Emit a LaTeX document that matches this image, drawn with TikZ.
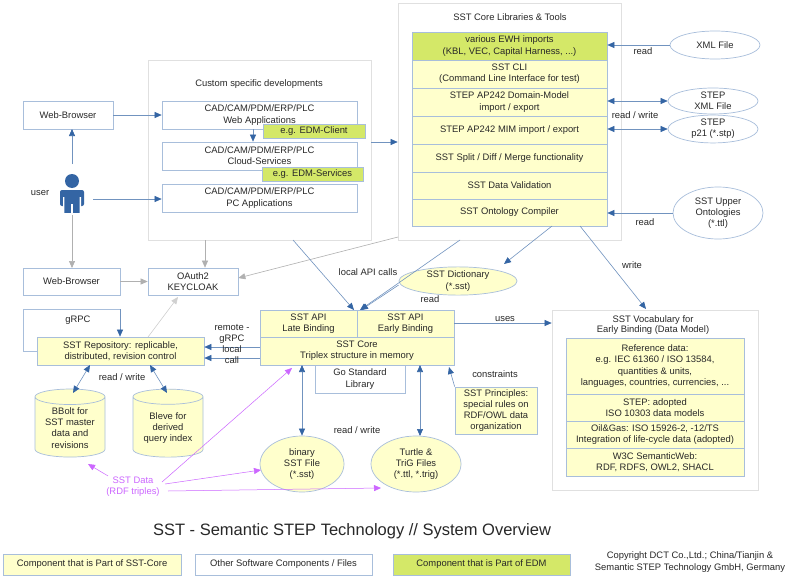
\documentclass[tikz,border=0pt]{standalone}
\usepackage{fontspec}
\setmainfont{Liberation Sans}
\usetikzlibrary{shapes.geometric,arrows.meta}
\definecolor{bd}{RGB}{168,190,219}
\definecolor{yl}{RGB}{255,255,204}
\definecolor{gr}{RGB}{212,232,104}
\definecolor{ab}{RGB}{52,101,164}
\definecolor{ag}{RGB}{176,176,176}
\definecolor{pu}{RGB}{204,102,255}
\definecolor{tx}{RGB}{40,40,40}
\newcommand\bx[7]{\node[#6,minimum width={(#4-#2)*1pt},minimum height={(#5-#3)*1pt}] (#1) at ({(#2+#4)/2},{(#3+#5)/2}) {#7};}
\begin{document}
\begin{tikzpicture}[x=1pt,y=-1pt,font=\fontsize{9.4}{11.2}\selectfont,text=tx,
 box/.style={draw=bd,fill=white,align=center,inner sep=0pt,line width=0.7pt},
 ybox/.style={box,fill=yl},
 gbox/.style={box,fill=gr},
 ell/.style={ellipse,draw=bd,align=center,inner sep=0pt,line width=0.7pt},
 yell/.style={ell,fill=yl},
 ba/.style={draw=ab!70,line width=0.6pt,-{Triangle[length=7pt,width=6pt,color=ab]}},
 bb/.style={draw=ab!70,line width=0.6pt,{Triangle[length=7pt,width=6pt,color=ab]}-{Triangle[length=7pt,width=6pt,color=ab]}},
 ga/.style={draw=ag,line width=0.6pt,-{Triangle[length=7pt,width=6pt]}},
 pa/.style={draw=pu,line width=0.5pt,-{Triangle[length=7pt,width=6pt]}},
 ln/.style={draw=bd,line width=0.7pt},
 lbl/.style={inner sep=1pt,align=center}]
\useasboundingbox (0,0) rectangle (800,578);
\fill[white] (0,0) rectangle (800,578);
% custom
\bx{cust}{148}{60}{371}{240}{box,draw=black!12}{}
\node[lbl] (custt) at (259,84) {Custom specific developments};
\bx{web}{162}{101}{357}{129}{box}{CAD/CAM/PDM/ERP/PLC\\Web Applications}
\bx{cloud}{162}{142}{357}{170}{box}{CAD/CAM/PDM/ERP/PLC\\Cloud-Services}
\bx{pc}{162}{184}{357}{212}{box}{CAD/CAM/PDM/ERP/PLC\\PC Applications}
\bx{edmc}{263}{124}{365}{138}{gbox}{e.g. EDM-Client}
\bx{edms}{262}{167}{363}{181}{gbox}{e.g. EDM-Services}
\bx{wb1}{23}{101}{113}{129}{box}{Web-Browser}
\bx{wb2}{23}{268}{120}{295}{box}{Web-Browser}
\bx{oauth}{148}{268}{238}{295}{box}{OAuth2\\KEYCLOAK}
% user icon
\coordinate (user) at (72,193);
\fill[ab] (72,181) circle (7);
\fill[ab,rounded corners=2pt] (60,190) rectangle (84,206);
\fill[ab] (64,200) rectangle (80,213);
\fill[white] (71.3,204) rectangle (72.7,214);
\fill[white] (63,197) rectangle (64.3,214) (79.7,197) rectangle (81,214);
\node[lbl] (userl) at (40,193) {user};
% core libs
\bx{core}{398}{3}{621}{240}{box,draw=black!12}{}
\node[lbl] (coret) at (510,17) {SST Core Libraries \& Tools};
\bx{ewh}{412}{32}{607}{60}{gbox}{various EWH imports\\(KBL, VEC, Capital Harness, ...)}
\bx{cli}{412}{60}{607}{88}{ybox}{SST CLI\\(Command Line Interface for test)}
\bx{dom}{412}{88}{607}{116}{ybox}{STEP AP242 Domain-Model\\import / export}
\bx{mim}{412}{116}{607}{144}{ybox}{STEP AP242 MIM import / export}
\bx{split}{412}{144}{607}{172}{ybox}{SST Split / Diff / Merge functionality}
\bx{val}{412}{172}{607}{199}{ybox}{SST Data Validation}
\bx{onto}{412}{199}{607}{226}{ybox}{SST Ontology Compiler}
\node[ell,minimum width=90pt,minimum height=28pt] (xml) at (715,45) {XML File};
\node[ell,minimum width=90pt,minimum height=26pt] (sxml) at (713,101) {STEP\\XML File};
\node[ell,minimum width=90pt,minimum height=26pt] (p21) at (713,129) {STEP\\p21 (*.stp)};
\node[ell,minimum width=90pt,minimum height=52pt] (upper) at (718,213) {SST Upper\\Ontologies\\(*.ttl)};
\draw[ba] (xml.west) -- (ewh.east |- xml.west);
\node[lbl] at (643,51) {read};
\draw[bb] (dom.east |- sxml.west) -- (sxml.west);
\draw[bb] (mim.east |- p21.west) -- (p21.west);
\node[lbl] at (635,115) {read / write};
\draw[ba] (upper.west) -- (onto.east |- upper.west);
\node[lbl] at (645,222) {read};
% top arrows
\draw[ba] (wb1.east) -- (web.west);
\draw[ba] (72,164) -- (72,129);
\draw[ba] (93,199) -- (pc.west |- 93,199);
\draw[ga] (72,215) -- (72,268);
\draw[ba] (253,129) -- (cloud.north -| 253,129);
\draw[ba] (cust.east |- 0,142) -- (core.west |- 0,142);
\draw[ga] (cust.south -| 205,0) -- (oauth.north -| 205,0);
\draw[ga] (wb2.east) -- (oauth.west);
\coordinate (cg) at (398,237);
\draw[ga] (cg) -- (oauth.east |- 0,278);
% API
\bx{late}{260}{310}{357}{337}{ybox}{SST API\\Late Binding}
\bx{early}{357}{310}{454}{337}{ybox}{SST API\\Early Binding}
\bx{sstcore}{260}{337}{454}{365}{ybox}{SST Core\\Triplex structure in memory}
\bx{go}{315}{365}{405}{393}{box}{Go Standard\\Library}
\node[yell,minimum width=118pt,minimum height=28pt] (dict) at (458,281) {SST Dictionary\\(*.sst)};
\draw[ba] (293,240) -- (354,310);
\draw[ba] (460,240) -- (360,310);
\draw[ba] (dict.west) ++(0,4) -- (361,310);
\node[lbl] at (368,272) {local API calls};
\node[lbl] at (430,299) {read};
\draw[ba] (552,226) -- (504,264);
\draw[ba] (580,226) -- (646,309);
\node[lbl] at (632,265) {write};
% vocab
\bx{voc}{552}{310}{758}{490}{box,draw=black!12}{}
\node[lbl,font=\fontsize{9.4}{10.5}\selectfont] (voct) at (653,325) {SST Vocabulary for\\Early Binding (Data Model)};
\bx{ref}{566}{338}{744}{394}{ybox}{Reference data:\\e.g. IEC 61360 / ISO 13584,\\quantities \& units,\\languages, countries, currencies, ...}
\bx{stepd}{566}{394}{744}{421}{ybox}{STEP: adopted\\ISO 10303 data models}
\bx{oil}{566}{421}{744}{448}{ybox}{Oil\&Gas: ISO 15926-2, -12/TS\\Integration of life-cycle data (adopted)}
\bx{w3c}{566}{448}{744}{476}{ybox}{W3C SemanticWeb:\\RDF, RDFS, OWL2, SHACL}
\draw[ba] (early.east |- 0,323) -- (voc.west |- 0,323);
\node[lbl] at (505,319) {uses};
% principles
\bx{princ}{455}{387}{537}{434}{ybox}{SST Principles:\\special rules on\\RDF/OWL data\\organization}
\draw[ba] (princ.north west) -- (449,367);
\node[lbl] at (495,374) {constraints};
% repository
\draw[ln] (37,351) -- (23,351) -- (23,309) -- (120,309);
\node[lbl] (grpc) at (78,320) {gRPC};
\bx{repo}{37}{337}{204}{365}{ybox}{SST Repository: replicable,\\distributed, revision control}
\draw[ba] (120,309) -- (repo.north -| 120,0);
\draw[ba] (sstcore.west |- 0,347) -- (repo.east |- 0,347);
\draw[ba] (sstcore.west |- 0,358) -- (repo.east |- 0,358);
\node[lbl] at (232,344) {remote -\\gRPC\\local\\call};
\draw[ga,draw=ag!60] (148,337) -- (178,297);
\node[cylinder,shape border rotate=90,aspect=0.3,draw=bd,fill=yl,align=center,minimum width=70pt,minimum height=68pt,inner sep=1pt,line width=0.7pt] (bbolt) at (70,428) {BBolt for\\SST master\\data and\\revisions};
\node[cylinder,shape border rotate=90,aspect=0.3,draw=bd,fill=yl,align=center,minimum width=70pt,minimum height=68pt,inner sep=1pt,line width=0.7pt] (bleve) at (168,428) {Bleve for\\derived\\query index};
\draw[bb] (90,365) -- (73,393);
\draw[bb] (150,365) -- (167,393);
\node[lbl] at (122,377) {read / write};
% files
\node[yell,minimum width=84pt,minimum height=56pt] (bin) at (302,464) {binary\\SST File\\(*.sst)};
\node[yell,minimum width=90pt,minimum height=56pt] (ttl) at (416,464) {Turtle \&\\TriG Files\\(*.ttl, *.trig)};
\draw[bb] (302,365) -- (bin.north);
\draw[bb] (420,365) -- (420,436);
\node[lbl] at (357,430) {read / write};
\node[lbl,text=pu] (sstdata) at (133,487) {SST Data\\(RDF triples)};
\draw[pa] (sstdata.north) ++(-25,0) -- (88,464);
\draw[pa] (162,482) -- (292,368);
\draw[pa] (165,484) -- (261,470);
\draw[pa] (168,491) -- (381,488);
% title and legend
\node[lbl,font=\fontsize{16.5}{18}\selectfont] (title) at (352,531) {SST - Semantic STEP Technology // System Overview};
\bx{lg1}{3}{554}{181}{575}{ybox}{Component that is Part of SST-Core}
\bx{lg2}{195}{554}{372}{575}{box}{Other Software Components / Files}
\bx{lg3}{393}{554}{570}{575}{gbox}{Component that is Part of EDM}
\node[lbl] (copy) at (690,562) {Copyright DCT Co.,Ltd.; China/Tianjin \&\\Semantic STEP Technology GmbH, Germany};
\end{tikzpicture}
\end{document}
